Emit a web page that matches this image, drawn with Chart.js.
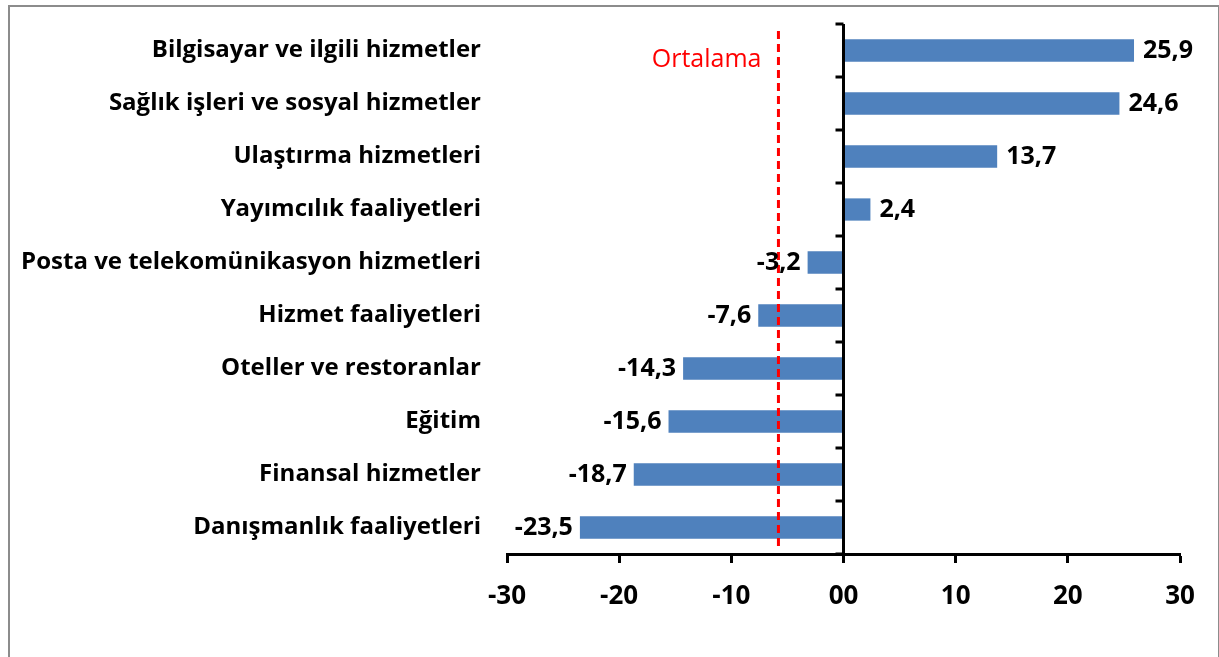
<!DOCTYPE html>
<html>
<head>
<meta charset="utf-8">
<script src="https://cdn.jsdelivr.net/npm/chart.js@4"></script>
<style>
    body { margin: 0; background: #fff; }
    #kutu { position: absolute; left: 8px; top: 5px; width: 1208px; height: 700px; border: 2px solid #8c8c8c; }
    #alan { position: absolute; left: 0; top: 0; width: 1219px; height: 657px; }
</style>
</head>
<body>
<div id="kutu"></div>
<div id="alan"><canvas id="grafik"></canvas></div>
<script>
// sektörler (yukarıdan aşağıya)
const sektorler = [
    'Bilgisayar ve ilgili hizmetler',
    'Sağlık işleri ve sosyal hizmetler',
    'Ulaştırma hizmetleri',
    'Yayımcılık faaliyetleri',
    'Posta ve telekomünikasyon hizmetleri',
    'Hizmet faaliyetleri',
    'Oteller ve restoranlar',
    'Eğitim',
    'Finansal hizmetler',
    'Danışmanlık faaliyetleri'
];
const degisim = [25.9, 24.6, 13.7, 2.4, -3.2, -7.6, -14.3, -15.6, -18.7, -23.5];
const ortalama = -5.8;
const xEtiketleri = { '-30': '-30', '-20': '-20', '-10': '-10', '0': '00', '10': '10', '20': '20', '30': '30' };

const YAZI = '"Open Sans", Lato, sans-serif';

// sıfır ekseni, ortalama çizgisi ve değer etiketleri
const eklenti = {
    id: 'ekler',
    afterDatasetsDraw(chart) {
        const ctx = chart.ctx;
        const x = chart.scales.x, y = chart.scales.y;
        const alan = chart.chartArea;
        const x0 = x.getPixelForValue(0);

        ctx.save();
        // dikey eksen çizgisi ve çentikler
        ctx.strokeStyle = '#000';
        ctx.lineWidth = 3;
        ctx.beginPath();
        ctx.moveTo(x0, alan.top);
        ctx.lineTo(x0, alan.bottom);
        ctx.stroke();
        const adim = y.getPixelForValue(1) - y.getPixelForValue(0);
        for (let i = 0; i <= sektorler.length; i++) {
            const py = y.getPixelForValue(i) - adim / 2;
            ctx.beginPath();
            ctx.moveTo(x0 - 8, py);
            ctx.lineTo(x0, py);
            ctx.stroke();
        }

        // ortalama çizgisi
        const xo = x.getPixelForValue(ortalama);
        ctx.strokeStyle = '#FF0000';
        ctx.lineWidth = 3;
        ctx.setLineDash([8, 5]);
        ctx.beginPath();
        ctx.moveTo(xo, alan.top + 7);
        ctx.lineTo(xo, alan.bottom - 6);
        ctx.stroke();
        ctx.setLineDash([]);
        ctx.fillStyle = '#FF0000';
        ctx.font = '25px ' + YAZI;
        ctx.textAlign = 'right';
        ctx.textBaseline = 'middle';
        ctx.fillText('Ortalama', xo - 17, y.getPixelForValue(0) + 9);

        // değer etiketleri
        ctx.fillStyle = '#000';
        ctx.font = 'bold 25px ' + YAZI;
        chart.getDatasetMeta(0).data.forEach((bar, i) => {
            const v = degisim[i];
            const yazi = v.toFixed(1).replace('.', ',');
            if (v >= 0) {
                ctx.textAlign = 'left';
                ctx.fillText(yazi, bar.x + 9, bar.y);
            } else {
                ctx.textAlign = 'right';
                ctx.fillText(yazi, bar.x - 7, bar.y);
            }
        });
        ctx.restore();
    }
};

new Chart(document.getElementById('grafik'), {
    type: 'bar',
    data: {
        labels: sektorler,
        datasets: [{
            data: degisim,
            backgroundColor: '#4F81BD',
            barPercentage: 0.42,
            categoryPercentage: 1
        }]
    },
    options: {
        indexAxis: 'y',
        responsive: true,
        maintainAspectRatio: false,
        animation: false,
        layout: { padding: { top: 24, right: 39, left: 0, bottom: 0 } },
        plugins: { legend: { display: false }, tooltip: { enabled: false } },
        scales: {
            x: {
                min: -30, max: 30,
                ticks: {
                    stepSize: 10,
                    color: '#000',
                    font: { family: YAZI, size: 26, weight: 'bold' },
                    padding: 18,
                    maxRotation: 0,
                    callback: (v) => xEtiketleri[String(v)]
                },
                grid: { drawOnChartArea: false, drawTicks: true, tickLength: 9, tickWidth: 3, tickColor: '#000' },
                border: { display: true, color: '#000', width: 3 },
                afterFit(s) { s.height = 103; }
            },
            y: {
                ticks: {
                    color: '#000',
                    font: { family: YAZI, size: 24, weight: 'bold' },
                    padding: 18
                },
                grid: { display: false },
                border: { display: false },
                afterFit(s) { s.width = 507; s.paddingTop = 0; s.paddingBottom = 0; }
            }
        }
    },
    plugins: [eklenti]
});
</script>
</body>
</html>
